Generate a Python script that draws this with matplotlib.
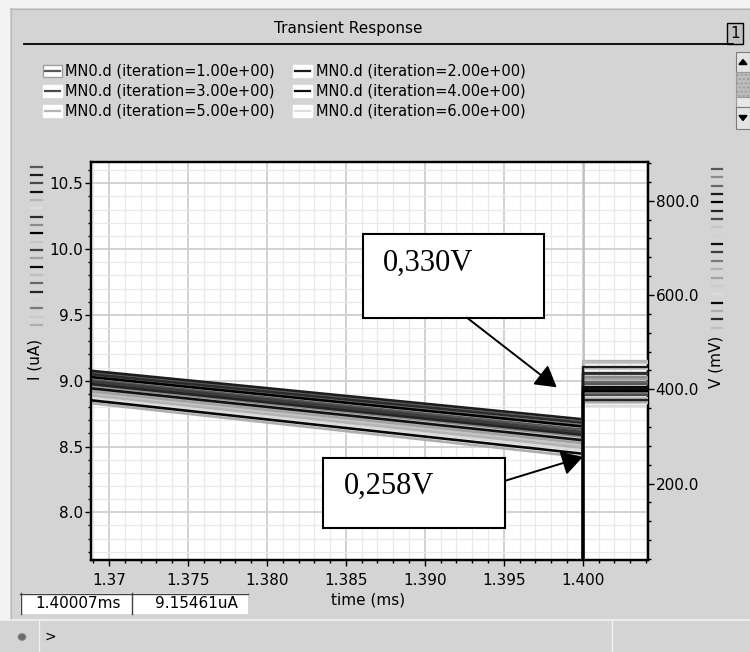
import matplotlib
matplotlib.use('Agg')
import matplotlib.pyplot as plt
from matplotlib.patches import Rectangle, Circle, Polygon
from matplotlib.lines import Line2D
from matplotlib.colors import to_rgb
from matplotlib.ticker import MultipleLocator, FixedLocator, FormatStrFormatter

# ---------------------------------------------------------------- data
time_ms = [1.3688, 1.4000]          # span of the drain-current traces
step_time_ms = 1.4000               # instant where the sweep switches
v_end_ms = 1.4045                   # end of the voltage traces
cursor_ms = 1.40007

iterations = list(range(1, 21))
current_start_uA = [9.006, 9.076, 8.985, 8.943, 8.890, 8.872, 9.050, 8.964, 9.028, 8.905,
                    8.996, 8.920, 8.852, 8.932, 9.062, 8.975, 8.954, 9.040, 9.018, 8.830]
current_end_uA = [8.628, 8.707, 8.602, 8.548, 8.490, 8.470, 8.680, 8.575, 8.652, 8.505,
                  8.610, 8.525, 8.445, 8.540, 8.688, 8.588, 8.566, 8.660, 8.635, 8.420]
voltage_mV = [410.6, 447.8, 387.9, 400.0, 460.5, 365.3, 435.1, 426.7, 396.4, 456.3,
              431.7, 421.2, 405.5, 382.2, 416.1, 377.4, 370.4, 391.5, 442.3, 373.8]
shades = ['#585858', '#1c1c1c', '#4a4a4a', '#101010', '#b4b4b4', '#dcdcdc', '#2c2c2c',
          '#8c8c8c', '#000000', '#c6c6c6', '#3c3c3c', '#a2a2a2', '#080808', '#bebebe',
          '#686868', '#242424', '#d2d2d2', '#7a7a7a', '#cacaca', '#aeaeae']

x_ticks = [1.370, 1.375, 1.380, 1.385, 1.390, 1.395, 1.400]
x_tick_labels = ['1.37', '1.375', '1.380', '1.385', '1.390', '1.395', '1.400']
i_ticks = [8.0, 8.5, 9.0, 9.5, 10.0, 10.5]
v_ticks = [200.0, 400.0, 600.0, 800.0]

legend_labels = ['MN0.d (iteration=%.2e)' % k for k in iterations[:6]]
note_high = '0,330V'
note_low = '0,258V'
low_point = (1.4000, 8.420)
cursor_time_text = '1.40007ms'
cursor_value_text = '9.15461uA'

# ---------------------------------------------------------------- figure
W, H = 750, 652
BG = '#d4d4d4'
fig = plt.figure(figsize=(W / 100, H / 100), dpi=100, facecolor=BG)


def fx(x):
    return x / W


def fy(y):
    return 1 - y / H


def rect(x0, y0, x1, y1, **kw):
    r = Rectangle((fx(x0), fy(y1)), fx(x1) - fx(x0), fy(y0) - fy(y1),
                  transform=fig.transFigure, **kw)
    fig.add_artist(r)
    return r


def hline(x0, x1, y, **kw):
    fig.add_artist(Line2D([fx(x0), fx(x1)], [fy(y), fy(y)], transform=fig.transFigure, **kw))


def vline(x, y0, y1, **kw):
    fig.add_artist(Line2D([fx(x), fx(x)], [fy(y0), fy(y1)], transform=fig.transFigure, **kw))


def depth(color):
    # darker traces are drawn on top of lighter ones
    return 3.0 - sum(to_rgb(color))


# window frame: light border strips on top and left
rect(0, 0, 750, 8, facecolor='#f3f3f3', edgecolor='none')
rect(0, 0, 10, 620, facecolor='#f3f3f3', edgecolor='none')
hline(10, 750, 8.5, color='#b8b8b8', lw=0.8)
vline(10.5, 8, 620, color='#b8b8b8', lw=0.8)

# header
fig.text(fx(348), fy(28), 'Transient Response', ha='center', va='center', fontsize=11)
hline(24, 733, 44, color='black', lw=1.3)
rect(727.3, 22.7, 742.7, 44, facecolor='#c2c2c2', edgecolor='black', lw=1.0)
fig.text(fx(735), fy(33.5), '1', ha='center', va='center', fontsize=11)

# scrollbar
rect(735.7, 51.7, 750, 71.7, facecolor='#e4e4e4', edgecolor='#7a7a7a', lw=0.8)
rect(735.7, 71.7, 750, 96.7, facecolor='#bdbdbd', edgecolor='#9a9a9a', lw=0.8,
     hatch='....')
rect(735.7, 96.7, 750, 107, facecolor='#e8e8e8', edgecolor='#9a9a9a', lw=0.8)
rect(735.7, 107, 750, 129, facecolor='#e4e4e4', edgecolor='#7a7a7a', lw=0.8)
fig.add_artist(Polygon([(fx(739), fy(64.5)), (fx(747), fy(64.5)), (fx(743), fy(59.5))],
                       closed=True, transform=fig.transFigure, color='black'))
fig.add_artist(Polygon([(fx(739), fy(115.5)), (fx(747), fy(115.5)), (fx(743), fy(120.5))],
                       closed=True, transform=fig.transFigure, color='black'))

# legend
legend_cols = [(43, 64.6), (293, 316)]
legend_rows = [71, 91, 111]
for k, label in enumerate(legend_labels):
    sx, tx = legend_cols[k % 2]
    yy = legend_rows[k // 2]
    rect(sx, yy - 6, sx + 19, yy + 6, facecolor='white',
         edgecolor='#a0a0a0' if k == 0 else 'white', lw=1.0)
    hline(sx + 2, sx + 17, yy, color=shades[k], lw=1.6)
    fig.text(fx(tx), fy(yy), label, ha='left', va='center', fontsize=10.5)

# ---------------------------------------------------------------- axes
ax = fig.add_axes([fx(91), fy(560), fx(648) - fx(91), fy(162) - fy(560)])
ax.set_facecolor('white')
ax.set_xlim(1.36886, 1.40413)
ax.set_ylim(7.6375, 10.662)

ax.xaxis.set_major_locator(FixedLocator(x_ticks))
ax.set_xticklabels(x_tick_labels)
ax.xaxis.set_minor_locator(MultipleLocator(0.001))
ax.yaxis.set_major_locator(FixedLocator(i_ticks))
ax.yaxis.set_major_formatter(FormatStrFormatter('%.1f'))
ax.yaxis.set_minor_locator(MultipleLocator(0.1))

ax.grid(which='major', color='#cfcfcf', lw=1.3)
ax.grid(which='minor', color='#e9e9e9', lw=0.9)
ax.set_axisbelow(True)

ax.tick_params(axis='both', which='major', direction='out', length=4.5, width=1.0,
               labelsize=11, colors='black')
ax.tick_params(axis='both', which='minor', direction='out', length=2.5, width=1.0)
ax.tick_params(axis='y', which='major', pad=1)
ax.tick_params(axis='x', which='major', pad=5)
for s in ax.spines.values():
    s.set_linewidth(1.6)
    s.set_color('black')

ax.axvline(cursor_ms, color='#c0c0c0', lw=1.3, zorder=1)

# drain current traces: linear ramp, then drop at the switching instant
for k in range(len(iterations)):
    ax.plot([time_ms[0], time_ms[1], step_time_ms],
            [current_start_uA[k], current_end_uA[k], 0.0],
            color=shades[k], lw=1.9, solid_capstyle='butt',
            zorder=2 + depth(shades[k]))

ax.set_xlabel('time (ms)', fontsize=11, va='center')
ax.xaxis.set_label_coords((368 - 91) / 557, (560 - 600) / 398)
ax.set_ylabel('I (uA)', fontsize=11, va='center')
ax.yaxis.set_label_coords((35 - 91) / 557, (560 - 359) / 398)

# voltage axis
ax2 = ax.twinx()
ax2.set_ylim(38, 882)
ax2.yaxis.set_major_locator(FixedLocator(v_ticks))
ax2.yaxis.set_major_formatter(FormatStrFormatter('%.1f'))
ax2.yaxis.set_minor_locator(MultipleLocator(40))
ax2.tick_params(axis='y', which='major', direction='out', length=4.5, width=1.0,
                labelsize=11, pad=1, colors='black')
ax2.tick_params(axis='y', which='minor', direction='out', length=2.5, width=1.0)
for s in ax2.spines.values():
    s.set_linewidth(1.6)
    s.set_color('black')

for k in range(len(iterations)):
    ax2.plot([step_time_ms, step_time_ms, v_end_ms], [0.0, voltage_mV[k], voltage_mV[k]],
             color=shades[k], lw=1.7, solid_capstyle='butt',
             zorder=2 + depth(shades[k]))

ax2.set_ylabel('V (mV)', fontsize=11, rotation=90, va='center')
ax2.yaxis.set_label_coords((716 - 91) / 557, (560 - 361.7) / 398)

# trace indicator marks beside each axis
for k in range(len(iterations)):
    yl = 166.7 + k * 8.33
    hline(31, 42, yl, color=shades[k], lw=1.6)
    yr = 169 + k * 8.35
    hline(712, 722, yr, color=shades[(k * 7) % 20], lw=1.6)

# callouts
arrow_style = dict(arrowstyle='-|>,head_length=0.85,head_width=0.5', mutation_scale=15,
                   color='black', lw=1.4, shrinkA=0, shrinkB=0)
ax2.add_patch(Rectangle((0.4878, 0.6088), 0.3260, 0.2096, transform=ax2.transAxes,
                        facecolor='white', edgecolor='black', lw=1.5, zorder=20))
ax2.text(0.5242, 0.7450, note_high, transform=ax2.transAxes, ha='left', va='center',
         fontsize=22, family='Liberation Serif', zorder=21)
ax2.annotate('', xy=(0.8361, 0.4339), xycoords=ax2.transAxes,
             xytext=(0.675, 0.6088), textcoords=ax2.transAxes,
             arrowprops=arrow_style, zorder=22)

ax2.add_patch(Rectangle((0.4172, 0.0796), 0.3266, 0.1774, transform=ax2.transAxes,
                        facecolor='white', edgecolor='black', lw=1.5, zorder=20))
ax2.text(0.4533, 0.1859, note_low, transform=ax2.transAxes, ha='left', va='center',
         fontsize=22, family='Liberation Serif', zorder=21)
ax2.annotate('', xy=low_point, xycoords=ax.transData,
             xytext=(0.7438, 0.1992), textcoords=ax2.transAxes,
             arrowprops=arrow_style, zorder=22)

# cursor readout
rect(20, 593, 131.7, 614.3, facecolor='white', edgecolor='none')
rect(131.7, 593, 248.3, 614.3, facecolor='white', edgecolor='none')
hline(20, 248.3, 593.5, color='#404040', lw=1.0)
vline(20.5, 593, 614.3, color='#404040', lw=1.0)
vline(132, 593, 614.3, color='#404040', lw=1.0)
fig.text(fx(78), fy(604), cursor_time_text, ha='center', va='center', fontsize=11)
fig.text(fx(196.5), fy(604), cursor_value_text, ha='center', va='center', fontsize=11)

# status bar
hline(0, 750, 619.5, color='#f2f2f2', lw=1.2)
vline(38.5, 620, 652, color='#f2f2f2', lw=1.0)
vline(611.5, 620, 652, color='#f2f2f2', lw=1.0)
fig.add_artist(Circle((fx(22), fy(637)), 4 / W, transform=fig.transFigure,
                      facecolor='#6a6a6a', edgecolor='#909090', lw=0.6))
fig.text(fx(45), fy(636.5), '>', ha='left', va='center', fontsize=10)

fig.savefig('out.png', dpi=100, facecolor=BG)
